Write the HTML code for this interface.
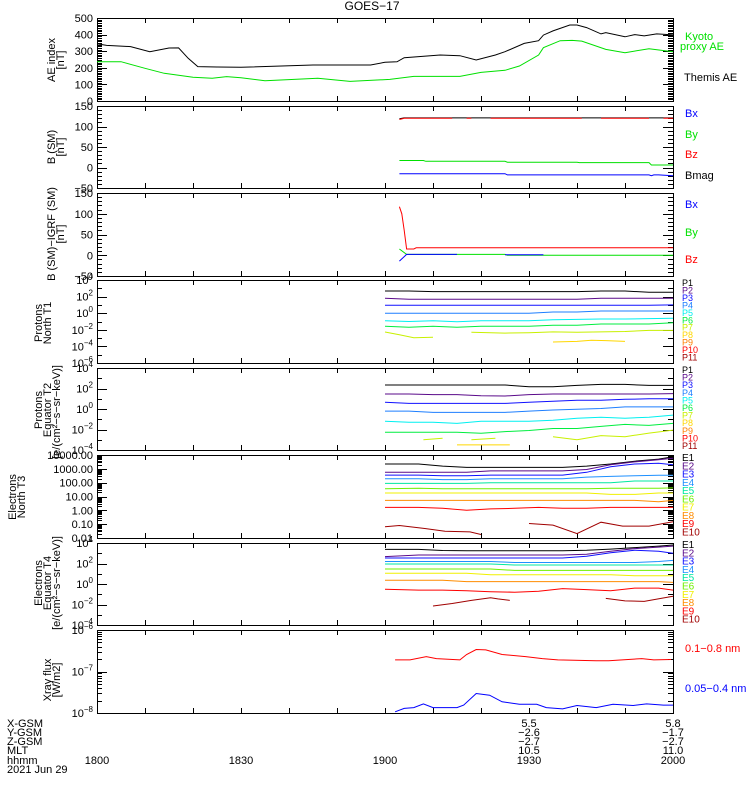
<!DOCTYPE html>
<html><head><meta charset="utf-8">
<style>
html,body{margin:0;padding:0;background:#fff;}
svg{display:block;font-family:"Liberation Sans",sans-serif;}
</style></head>
<body>
<svg id="chart" width="750" height="800" viewBox="0 0 750 800" xmlns="http://www.w3.org/2000/svg">
<rect width="750" height="800" fill="#fff"/>
<text x="372" y="10" font-size="12" text-anchor="middle">GOES−17</text>
</svg>
<script>
// ---------- data ----------
const themisTime=[0,2,7,11,15,17,19,21,25,30,45,57,60,62.5,64,71.5,75.6,79,83,85,89,92,93,95,98.5,100,102,105,106,110,112,114,116.6,120];
const themisAE=[345,335,328,297,319,320,257,207,205,203,217,217,233,236,261,277,273,247,277,297,347,363,397,422,458,458,442,404,412,387,400,392,404,398];
const kyotoTime=[0,5,10,14,20,24,27,30,35,46,52.7,61,66,75.6,80,85,88,92,93,96.5,99,101,106,110,115,120];
const kyotoAE=[237,237,197,167,143,137,147,140,122,137,118,130,148,148,172,185,211,277,321,363,365,361,311,291,315,297];
const bmagTime=[63,64,120];
const bmagVals=[119,121,121];
const bzTime=[63,64,74,74.5,77,78,78.5,82,101,101.5,105,115,115.5,118,120];
const bzVals=[117,120,120,null,120,120,null,120,120,null,120,120,null,120,120];
const byTime=[63,68,68.5,85,85.5,100,100.5,115,115.5,120];
const byVals=[17,17,15,15,13,13,12,12,6,6];
const bxTime=[63,85,85.5,115,115.5,116,117,120];
const bxVals=[-15,-15,-18,-18,-20,-18,-18,-20];
const dbzTime=[63,63.5,64,64.5,66,66.5,120];
const dbzVals=[117,100,60,15,15,18,18];
const dbyTime=[63,64.5,85,85.5,120];
const dbyVals=[15,2,2,0,0];
const dbxTime=[63,64.5,70,75,75.5,85,93];
const dbxVals=[-14,2,2,2,null,1,1];
const gridA=[60,65,70,75,80,85,90,95,100,105,110,115,120];
const t1P1=[2.67,2.67,2.6,2.6,2.6,2.6,2.6,2.6,2.6,2.67,2.67,2.52,2.52];
const t1P2=[1.8,1.67,1.67,1.67,1.67,1.67,1.67,1.67,1.67,1.8,1.8,1.8,1.8];
const t1P3=[0.95,0.95,0.95,0.95,0.95,0.95,0.95,0.95,0.95,0.95,0.95,0.95,1.0];
const t1P4=[0,0,0,0,0,0,0,0.14,0.14,0.26,0.26,0.26,0.26];
const t1P5=[-0.9,-1.0,-0.9,-1.02,-0.9,-0.9,-0.9,-0.8,-0.75,-0.7,-0.7,-0.65,-0.6];
const t1P6=[-1.58,-1.7,-1.58,-1.7,-1.58,-1.58,-1.58,-1.45,-1.45,-1.3,-1.3,-1.3,-1.15];
const t1P7Time=[60,63,66,70,null,78,85,90,95,100,105,110,115,120];
const t1P7=[-2.27,-2.6,-2.95,-2.9,null,-2.3,-2.4,-2.35,-2.25,-2.3,-2.25,-2.2,-2.07,-2.07];
const t1P8Time=[95,100,103,106,110];
const t1P8=[-3.47,-3.4,-3.25,-3.3,-3.4];
const t2P1=[2.34,2.34,2.34,2.34,2.34,2.34,2.18,2.18,2.3,2.4,2.4,2.3,2.3];
const t2P2=[1.46,1.46,1.4,1.4,1.3,1.27,1.4,1.46,1.46,1.46,1.46,1.46,1.5];
const t2P3=[0.65,0.55,0.55,0.55,0.55,0.55,0.65,0.75,0.85,0.85,0.95,1.0,1.0];
const t2P4=[-0.2,-0.2,-0.33,-0.33,-0.33,-0.33,-0.2,-0.1,-0.03,0.05,0.2,0.2,0.2];
const t2P5=[-1.2,-1.3,-1.3,-1.4,-1.2,-1.2,-1.2,-1.1,-0.9,-0.8,-0.9,-0.8,-0.6];
const t2P6=[-2.27,-2.27,-2.27,-2.27,-2.37,-2.2,-2.1,-1.9,-1.9,-1.7,-1.5,-1.6,-1.4];
const t2P7Time=[68,72,null,78,83,null,95,100,105,110,115,120];
const t2P7=[-3.0,-2.85,null,-3.0,-2.85,null,-2.7,-3.0,-2.6,-2.7,-2.35,-2.06];
const t2P8Time=[75,86];
const t2P8=[-3.5,-3.5];
const gridB=[60,67,72,77,82,87,92,97,102,107,112,117,120];
const t3E1=[3.35,3.35,3.2,3.1,3.1,3.1,3.1,3.1,3.2,3.35,3.55,3.7,3.88];
const t3E2=[2.75,2.75,2.75,2.75,2.85,2.85,2.85,2.85,2.95,3.3,3.5,3.65,3.76];
const t3E3=[2.55,2.55,2.5,2.5,2.55,2.55,2.55,2.55,2.75,3.15,3.35,3.4,3.3];
const t3E4=[2.28,2.28,2.22,2.22,2.28,2.28,2.28,2.28,2.4,2.45,2.5,2.53,2.53];
const t3E5=[1.95,1.95,1.95,1.95,2.0,2.0,2.0,2.0,2.0,2.0,2.12,2.12,2.12];
const t3E6=[1.56,1.6,1.56,1.56,1.56,1.56,1.56,1.56,1.56,1.6,1.6,1.6,1.62];
const t3E7=[1.25,1.25,1.25,1.25,1.25,1.25,1.25,1.25,1.25,1.15,1.15,1.25,1.25];
const t3E8=[0.72,0.72,0.72,0.72,0.72,0.72,0.72,0.72,0.72,0.72,0.72,0.62,0.72];
const t3E9=[0.21,0.21,0.15,0.01,0.1,0.15,0.21,0.15,0.15,0.21,0.21,0.21,0.21];
const t3E10Time=[60,63,68.3,72.5,77.7,80,null,90,95,100,105,109.5,115,120];
const t3E10=[-1.19,-1.1,-1.31,-1.51,-1.56,-1.75,null,-0.95,-1.07,-1.68,-0.86,-1.14,-1.14,-0.83];
const t4E1=[3.38,3.38,3.27,3.25,3.25,3.25,3.25,3.25,3.3,3.4,3.55,3.7,3.8];
const t4E2=[2.67,2.83,2.83,2.83,2.83,2.83,2.83,2.83,2.9,3.2,3.45,3.6,3.7];
const t4E3=[2.54,2.54,2.54,2.54,2.54,2.54,2.54,2.54,2.7,3.05,3.3,3.2,3.0];
const t4E4=[2.2,2.2,2.2,2.2,2.2,2.1,2.1,2.1,2.1,2.1,2.1,2.2,2.3];
const t4E5=[1.95,1.95,1.95,1.95,1.95,1.85,1.85,1.85,1.85,1.85,1.85,1.85,1.85];
const t4E6=[1.46,1.46,1.46,1.46,1.46,1.33,1.33,1.33,1.33,1.33,1.33,1.33,1.33];
const t4E7=[1.04,1.04,1.04,1.04,0.9,0.9,0.9,0.9,0.9,0.9,0.8,0.8,0.8];
const t4E8=[0.36,0.36,0.36,0.23,0.23,0.23,0.23,0.23,0.23,0.23,0.23,0.23,0.16];
const t4E9=[-0.52,-0.6,-0.6,-0.65,-0.75,-0.8,-0.7,-0.45,-0.55,-0.65,-0.4,-0.4,-0.6];
const t4E10Time=[70,74,78,82,83.5,86,null,106,110,114,120];
const t4E10=[-2.15,-1.9,-1.6,-1.35,-1.45,-1.6,null,-1.4,-1.65,-1.7,-1.2];
const xrLongTime=[62.1,65.2,68.6,70.7,75.6,77,79,81,84.4,89.3,92.8,96,104,106.6,113.5,116,119.6];
const xrLong=[-6.72,-6.72,-6.64,-6.69,-6.72,-6.59,-6.47,-6.48,-6.59,-6.64,-6.69,-6.72,-6.74,-6.74,-6.69,-6.72,-6.71];
const xrShortTime=[62.1,64,66,68,70,75,76.4,79,81.8,84.4,88,91.6,93.6,97,100,104,107.5,111.7,114.5,118,120];
const xrShort=[-7.97,-7.89,-7.87,-7.78,-7.87,-7.87,-7.81,-7.53,-7.57,-7.73,-7.79,-7.79,-7.87,-7.9,-7.82,-7.87,-7.79,-7.82,-7.78,-7.81,-7.81];
const xTickLabels=["1800","1830","1900","1930","2000"];
const xTickMinutes=[0,30,60,90,120];
const ephemLabels=["X-GSM","Y-GSM","Z-GSM","MLT","hhmm","2021 Jun 29"];
const ephem1930=["5.5","−2.6","−2.7","10.5"];
const ephem2000=["5.8","−1.7","−2.7","11.0"];

// ---------- layout ----------
const NS="http://www.w3.org/2000/svg";
const svg=document.getElementById('chart');
const X0=97, X1=673, TMAX=120;
function xs(m){return X0+m/TMAX*(X1-X0);}
const panels=[
 {top:18,bot:101,min:0,max:500,log:false},
 {top:106,bot:188,min:-50,max:150,log:false},
 {top:193,bot:276,min:-50,max:150,log:false},
 {top:280,bot:363,min:-6,max:4,log:true},
 {top:368,bot:450,min:-4,max:4,log:true},
 {top:455,bot:538,min:-2,max:4,log:true},
 {top:543,bot:625,min:-4,max:4,log:true},
 {top:630,bot:713,min:-8,max:-6,log:true}
];
function ys(p,v){return p.bot-(v-p.min)/(p.max-p.min)*(p.bot-p.top);}
function mk(tag,attrs,parent){const e=document.createElementNS(NS,tag);for(const k in attrs)e.setAttribute(k,attrs[k]);(parent||svg).appendChild(e);return e;}
function line(x1,y1,x2,y2,g){return mk('line',{x1,y1,x2,y2,stroke:'#000','stroke-width':1,'shape-rendering':'crispEdges'},g);}

function drawSeries(pi,tArr,vArr,color,name){
  const p=panels[pi];let d='',pen=false;
  for(let i=0;i<tArr.length;i++){
    const t=tArr[i],v=vArr[i];
    if(t===null||v===null||v===undefined){pen=false;continue;}
    d+=(pen?'L':'M')+xs(t).toFixed(1)+' '+ys(p,v).toFixed(1)+' ';pen=true;
  }
  const el=mk('path',{d,fill:'none',stroke:color,'stroke-width':1});
  
  
}

panels.forEach((p,i)=>{
  const g=mk('g',{});
  
  
  mk('rect',{x:X0+0.5,y:p.top+0.5,width:X1-X0,height:p.bot-p.top,fill:'none',stroke:'#000','stroke-width':1,'shape-rendering':'crispEdges'},g);
  for(let m=10;m<TMAX;m+=10){const x=Math.round(xs(m))+0.5;line(x,p.top,x,p.top+5,g);line(x,p.bot-5,x,p.bot,g);}
  const yt=[];
  if(!p.log){
    const minor=10,major=(i===0?100:50);
    for(let v=p.min;v<=p.max;v+=minor)yt.push([v,(v%major===0)?10:5]);
  } else if(i===5||i===7){
    for(let e=p.min;e<p.max;e++){yt.push([e,10]);for(let k=2;k<10;k++)yt.push([e+Math.log10(k),5]);}
    yt.push([p.max,10]);
  } else {
    for(let e=p.min;e<=p.max;e++)yt.push([e,((e-p.min)%2===0)?10:5]);
  }
  yt.forEach(([v,L])=>{const y=Math.round(ys(p,v))+0.5;line(X0,y,X0+L,y,g);line(X1-L,y,X1,y,g);});
});

function ylab(pi,v,txt,sup,name){
  const p=panels[pi];const y=ys(p,v);
  const t=mk('text',{x:93,y:y+4,'font-size':11,'text-anchor':'end'});
  
  
  if(sup!==undefined){t.textContent=txt;const s=mk('tspan',{dy:-5,'font-size':8},t);s.textContent=sup;}
  else t.textContent=txt;
}
[0,100,200,300,400,500].forEach(v=>ylab(0,v,String(v),undefined,'ae-y-tick-label'));
[-50,0,50,100,150].forEach(v=>{ylab(1,v,String(v).replace('-','−'),undefined,'bsm-y-tick-label');ylab(2,v,String(v).replace('-','−'),undefined,'bigrf-y-tick-label');});
[4,2,0,-2,-4,-6].forEach(e=>ylab(3,e,'10',String(e).replace('-','−'),'t1-y-tick-label'));
[4,2,0,-2,-4].forEach(e=>{ylab(4,e,'10',String(e).replace('-','−'),'t2-y-tick-label');ylab(6,e,'10',String(e).replace('-','−'),'t4-y-tick-label');});
["0.01","0.10","1.00","10.00","100.00","1000.00","10000.00"].forEach((s,k)=>ylab(5,k-2,s,undefined,'t3-y-tick-label'));
[-6,-7,-8].forEach(e=>ylab(7,e,'10',String(e).replace('-','−'),'xray-y-tick-label'));

function ytitle(x,y,txt,name){
  const t=mk('text',{x:0,y:0,'font-size':11,'text-anchor':'middle',transform:`translate(${x},${y}) rotate(-90)`});
  t.textContent=txt;
  
  
}
ytitle(55,60,'AE index','ae-y-title');ytitle(64,60,'[nT]','ae-y-unit');
ytitle(55,147,'B (SM)','bsm-y-title');ytitle(64,147,'[nT]','bsm-y-unit');
ytitle(55,234,'B (SM)−IGRF (SM)','bigrf-y-title');ytitle(64,234,'[nT]','bigrf-y-unit');
ytitle(42,323,'Protons','t1-y-title');ytitle(51,323,'North T1','t1-y-subtitle');
ytitle(42,410,'Protons','t2-y-title');ytitle(51,410,'Equator T2','t2-y-subtitle');ytitle(60,412,'[e/(cm²−s−sr−keV)]','t2-y-unit');
ytitle(16,497,'Electrons','t3-y-title');ytitle(25,497,'North T3','t3-y-subtitle');
ytitle(42,583,'Electrons','t4-y-title');ytitle(51,583,'Equator T4','t4-y-subtitle');ytitle(60,583,'[e/(cm²−s−sr−keV)]','t4-y-unit');
ytitle(51,680,'Xray flux','xray-y-title');ytitle(60,680,'[W/m2]','xray-y-unit');

drawSeries(0,themisTime,themisAE,'#000','themis-ae-line');
drawSeries(0,kyotoTime,kyotoAE,'#00e000','kyoto-ae-line');
drawSeries(1,bmagTime,bmagVals,'#000','bmag-line');
drawSeries(1,bzTime,bzVals,'#ff0000','bz-line');
drawSeries(1,byTime,byVals,'#00e000','by-line');
drawSeries(1,bxTime,bxVals,'#0000ff','bx-line');
drawSeries(2,dbzTime,dbzVals,'#ff0000','dbz-line');
drawSeries(2,dbyTime,dbyVals,'#00e000','dby-line');
drawSeries(2,dbxTime,dbxVals,'#0000ff','dbx-line');
const pColors=['#000000','#5a0a8a','#1010ff','#1e7fff','#00f0f0','#00ee40','#c8f000','#ffd700','#ff7f00','#ff0000','#a00000'];
const eColors=['#000000','#5a0a8a','#1010ff','#1e90ff','#00e8a0','#70f000','#f0f000','#ff8c00','#ff0000','#a00000'];
[t1P1,t1P2,t1P3,t1P4,t1P5,t1P6].forEach((a,k)=>drawSeries(3,gridA,a,pColors[k],'t1-p'+(k+1)+'-line'));
drawSeries(3,t1P7Time,t1P7,pColors[6],'t1-p7-line');
drawSeries(3,t1P8Time,t1P8,pColors[7],'t1-p8-line');
[t2P1,t2P2,t2P3,t2P4,t2P5,t2P6].forEach((a,k)=>drawSeries(4,gridA,a,pColors[k],'t2-p'+(k+1)+'-line'));
drawSeries(4,t2P7Time,t2P7,pColors[6],'t2-p7-line');
drawSeries(4,t2P8Time,t2P8,pColors[7],'t2-p8-line');
[t3E1,t3E2,t3E3,t3E4,t3E5,t3E6,t3E7,t3E8,t3E9].forEach((a,k)=>drawSeries(5,gridB,a,eColors[k],'t3-e'+(k+1)+'-line'));
drawSeries(5,t3E10Time,t3E10,eColors[9],'t3-e10-line');
[t4E1,t4E2,t4E3,t4E4,t4E5,t4E6,t4E7,t4E8,t4E9].forEach((a,k)=>drawSeries(6,gridB,a,eColors[k],'t4-e'+(k+1)+'-line'));
drawSeries(6,t4E10Time,t4E10,eColors[9],'t4-e10-line');
drawSeries(7,xrLongTime,xrLong,'#ff0000','xray-long-line');
drawSeries(7,xrShortTime,xrShort,'#0000ff','xray-short-line');

function leg(x,y,txt,color,size,name){
  const t=mk('text',{x,y,'font-size':size,fill:color});
  t.textContent=txt;
  
  
}
leg(685,40,'Kyoto','#00e000',11,'legend-kyoto');
leg(680,50,'proxy AE','#00e000',11,'legend-proxy-ae');
leg(684,81,'Themis AE','#000',11,'legend-themis-ae');
[['Bx','#0000ff',117],['By','#00e000',138],['Bz','#ff0000',158],['Bmag','#000',179]].forEach(a=>leg(685,a[2],a[0],a[1],11,'legend-bsm-'+a[0].toLowerCase()));
[['Bx','#0000ff',208],['By','#00e000',236],['Bz','#ff0000',263]].forEach(a=>leg(685,a[2],a[0],a[1],11,'legend-bigrf-'+a[0].toLowerCase()));
for(let k=0;k<11;k++){leg(682,286+k*7.45,'P'+(k+1),pColors[k],9,'legend-t1-p'+(k+1));leg(682,373+k*7.6,'P'+(k+1),pColors[k],9,'legend-t2-p'+(k+1));}
for(let k=0;k<10;k++){leg(682,461+k*8.25,'E'+(k+1),eColors[k],10,'legend-t3-e'+(k+1));leg(682,548+k*8.3,'E'+(k+1),eColors[k],10,'legend-t4-e'+(k+1));}
leg(685,652,'0.1−0.8 nm','#ff0000',11,'legend-xray-long');
leg(685,692,'0.05−0.4 nm','#0000ff',11,'legend-xray-short');

const rowY=[727,736,745,754,764,773];
ephemLabels.forEach((s,k)=>leg(7,rowY[k],s,'#000',11,'ephem-label-'+k));
xTickLabels.forEach((s,k)=>{const t=mk('text',{x:xs(xTickMinutes[k]),y:rowY[4],'font-size':11,'text-anchor':'middle'});t.textContent=s;

});
ephem1930.forEach((s,k)=>{const t=mk('text',{x:xs(90),y:rowY[k],'font-size':11,'text-anchor':'middle'});t.textContent=s;

});
ephem2000.forEach((s,k)=>{const t=mk('text',{x:xs(120),y:rowY[k],'font-size':11,'text-anchor':'middle'});t.textContent=s;

});
</script>
</body></html>
